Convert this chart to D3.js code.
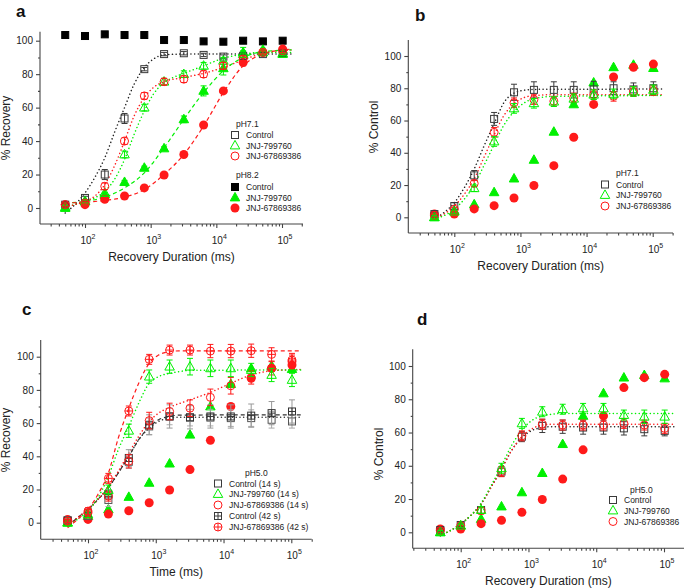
<!DOCTYPE html>
<html><head><meta charset="utf-8">
<script src="https://cdn.jsdelivr.net/npm/d3@7"></script>
<style>body{margin:0;background:#fff}svg{display:block;font-family:"Liberation Sans",Arial,sans-serif}</style>
</head><body><svg id="chart" width="685" height="588"></svg>
<script>
// ---------- data ----------
const durations = [50,100,200,400,800,1600,3200,6400,12800,25600,51200,102400];
const yTicks = [0,20,40,60,80,100];
const xTicks = [100,1000,10000,100000];

// pH8.2 (shared by all panels)
const ph82Control = [103.4,102.8,103.8,103.4,103.4,100.4,100.4,99.6,99.4,100,99.6,100];
const ph82Jnj799  = [0,4,8,15.5,24,35.6,53,70,83.5,93,94.5,92.5];
const ph82Jnj678  = [2,2,5.2,7.2,12,19.7,32,49.6,70,87,93,95];
const ph82Err799  = [1,1,1,1,1,1,2,3,4,3,1,1];
const ph82Err678  = [1,1,1,1,1,1,1,1,1,2,1,1];

// panel a (pH7.1, % Recovery)
const aControl = [2,6,20,53.5,83,92,92.5,91.5,90.5,91,92,92.5];
const aJnj799  = [0.5,4,9,32,60,75.5,80,85,88,92,93,92];
const aJnj678  = [2,3,13,40,67,75.5,77,80,85,89,93,94];
const aErrCtrl = [1,1,3,3,1,1,1,1,1,1,1,1];
const aErr799  = [1,1,2,2,2,2,2,2,2,2,1,1];
const aErr678  = [1,1,2,2,2,2,2,2,2,2,1,1];
const aFitControl = [[50,-3],[70,2],[100,9],[140,18],[200,30],[280,45],[400,60],[560,74],[800,84],[1100,89],[1600,91.5],[3200,92],[140000,92]];
const aFit799     = [[50,1],[70,2],[100,4],[140,6],[200,10],[280,17],[400,29],[560,44],[800,58],[1100,68],[1600,75],[2200,78],[3200,80.5],[6400,85],[12800,89.5],[25600,92],[51200,93],[140000,93]];
const aFit678     = [[50,1],[70,2],[100,4],[140,7],[200,14],[280,25],[400,40],[560,55],[800,66],[1100,72],[1600,75.5],[3200,78],[6400,80.5],[12800,84],[25600,88.5],[51200,92.5],[140000,94.5]];
const aFit82_799  = [[50,3],[100,4],[200,6.5],[400,12],[800,21],[1600,36],[3200,53],[6400,69],[12800,82],[25600,90],[51200,93.5],[140000,94.5]];
const aFit82_678  = [[50,3],[100,3.5],[200,4.5],[400,6.5],[800,11],[1600,20],[3200,32],[6400,49],[12800,69],[25600,85],[51200,92],[140000,95]];

// panel b (pH7.1, % Control)
const bControl = [2,7,26,61,77.5,79,79,79,79.3,80,79.3,80];
const bJnj799  = [0,3.5,18,47,67.5,70.7,71.7,73.5,76,76.5,78,79];
const bJnj678  = [1,5,21,52.7,71,73,72,74,76,75,78,78.5];
const bErrCtrl = [1,2,3,4,5,5,5,5,5,4,4,4];
const bErr799  = [1,1,2,3,3,3,3,3,3,3,3,3];
const bErr678  = [1,1,2,3,3,3,3,3,3,3,3,3];
const bFitControl = [[50,-1],[70,3],[100,9],[140,18],[200,30],[280,44],[400,58],[560,71],[800,77],[1100,78.7],[1600,79.3],[140000,79.5]];
const bFit678     = [[50,-1],[70,2],[100,7],[140,14],[200,24],[280,37],[400,51],[560,63],[800,70.5],[1100,74],[1600,75.5],[3200,76],[140000,76]];
const bFit799     = [[50,-1],[70,1],[100,5],[140,11],[200,20],[280,32],[400,45],[560,57],[800,65.5],[1100,70.5],[1600,73.5],[3200,75],[140000,75.5]];

// panel c (pH5.0, % Recovery)
const cControl14 = [1.6,4,13.7,36.7,58,64,63.3,63.3,63,63,62,61];
const cJnj799_14 = [0,5,19.7,55.4,88,94,94,93,93,92,89,86];
const cJnj678_14 = [1,6,16,37,61.5,67,69,75.5,82.5,87.5,93,97];
const cControl42 = [1,6,17,39,59,64,63.5,64,64,64.5,66,67];
const cJnj678_42 = [1,7,26.7,67.3,98.4,104,104,103.4,103.4,103.6,101.4,98];
const cErrCtrl14 = [1,2,4,4,5,5,5,5,5,5,5,4];
const cErr799_14 = [1,2,3,4,4,4,5,5,5,4,4,4];
const cErr678_14 = [1,2,3,4,5,5,5,5,5,4,4,4];
const cErrCtrl42 = [1,2,3,5,6,7,7,7,7,7,7,7];
const cErr678_42 = [1,2,3,3,3,3,3,4,4,4,4,4];
const cFitCtrl14 = [[50,-2],[70,3],[100,8],[140,14],[200,21],[280,30],[400,40],[560,50],[800,57],[1100,61],[1600,63],[2200,63.5],[140000,63.5]];
const cFitCtrl42 = [[50,-2],[70,3],[100,8],[140,14],[200,21],[280,30],[400,40],[560,50],[800,57.5],[1100,62],[1600,64],[2200,64.8],[140000,65]];
const cFit799_14 = [[50,-2],[70,2],[100,7],[140,15],[200,28],[280,44],[400,58],[560,72],[800,84],[1100,88],[1600,90],[2200,91],[3200,91.8],[140000,92]];
const cFit678_14 = [[50,-2],[70,3],[100,8],[140,14],[200,22],[280,31],[400,42],[560,52],[800,61],[1100,66],[1600,69.5],[3200,74],[6400,78.5],[12800,84],[25600,89],[51200,91.5],[140000,92.3]];
const cFit678_42 = [[50,-3],[70,2],[100,8],[140,17],[200,30],[280,51],[400,69],[560,84],[800,96],[1100,101],[1600,103],[2200,103.5],[140000,103.5]];

// panel d (pH5.0, % Control)
const dControl = [1.4,4.4,13.4,36.5,57.5,64,63.5,63,63,62.5,62,61];
const dJnj799  = [0,4,13.4,38.5,65.5,72.5,74,74.5,74.5,70.5,69.5,69.5];
const dJnj678  = [1,4,13,36.5,58,65,64.5,64.5,64.5,65.5,64.5,62.5];
const dErrCtrl = [1,1,2,3,3,4,4,4,4,4,4,3];
const dErr799  = [1,1,2,3,3,3,3,3,3,3,4,4];
const dErr678  = [1,1,2,3,3,3,3,3,3,3,3,3];
const dFitControl = [[50,-2],[70,1],[100,5],[140,10],[200,17],[280,27],[400,38],[560,49],[800,57],[1100,61],[1600,63],[2200,63.5],[140000,63.5]];
const dFit678     = [[50,-2],[70,1],[100,5],[140,10],[200,17],[280,27],[400,38],[560,49],[800,57.5],[1100,62],[1600,64.5],[2200,65],[140000,65]];
const dFit799     = [[50,-2],[70,1],[100,5],[140,10],[200,17.5],[280,28],[400,40],[560,52],[800,61.5],[1100,67],[1600,70],[2200,71],[3200,71.5],[140000,71.5]];

// ---------- drawing ----------
const GREEN = "#00f000", RED = "#ff1a1a", DARK = "#3a3a3a";
const svg = d3.select("#chart");

function marker(g, shape, cx, cy, color, filled, cross) {
  const sw = 1;
  if (shape === "square") {
    const s = 7;
    g.append("rect").attr("x", cx - s/2).attr("y", cy - s/2).attr("width", s).attr("height", s)
      .attr("fill", filled ? color : "none").attr("stroke", color).attr("stroke-width", sw);
    if (cross) {
      g.append("line").attr("x1", cx - s/2).attr("x2", cx + s/2).attr("y1", cy).attr("y2", cy).attr("stroke", color).attr("stroke-width", sw);
      g.append("line").attr("x1", cx).attr("x2", cx).attr("y1", cy - s/2).attr("y2", cy + s/2).attr("stroke", color).attr("stroke-width", sw);
    }
  } else if (shape === "circle") {
    const r = 4;
    g.append("circle").attr("cx", cx).attr("cy", cy).attr("r", filled ? r + 0.5 : r)
      .attr("fill", filled ? color : "none").attr("stroke", color).attr("stroke-width", filled ? 0 : sw);
    if (cross) {
      g.append("line").attr("x1", cx - r).attr("x2", cx + r).attr("y1", cy).attr("y2", cy).attr("stroke", color).attr("stroke-width", sw);
      g.append("line").attr("x1", cx).attr("x2", cx).attr("y1", cy - r).attr("y2", cy + r).attr("stroke", color).attr("stroke-width", sw);
    }
  } else if (shape === "triangle") {
    const w = 9.5, h = 8.5;
    const pts = [[cx, cy - h*0.6], [cx + w/2, cy + h*0.4], [cx - w/2, cy + h*0.4]];
    g.append("path").attr("d", "M" + pts.map(p => p.join(",")).join("L") + "Z")
      .attr("fill", filled ? color : "none").attr("stroke", color).attr("stroke-width", sw);
  }
}

function panel(cfg) {
  const g = svg.append("g");
  const dec = (cfg.x5 - cfg.x2) / 3;
  const xmin = Math.pow(10, 2 - (cfg.x2 - cfg.left) / dec);
  const xmax = Math.pow(10, 5 + (cfg.right - cfg.x5) / dec);
  const x = d3.scaleLog().domain([xmin, xmax]).range([cfg.left, cfg.right]);
  const unit = (cfg.y0 - cfg.y100) / 100;
  const ymin = -(cfg.bottom - cfg.y0) / unit;
  const ymax = (cfg.y0 - cfg.top) / unit;
  const y = d3.scaleLinear().domain([ymin, ymax]).range([cfg.bottom, cfg.top]);

  // panel letter
  g.append("text").attr("x", cfg.letterX).attr("y", cfg.letterY).attr("font-size", 17)
    .attr("font-weight", "bold").attr("fill", "#111").text(cfg.letter);

  // curves
  const line = d3.line().x(d => x(d[0])).y(d => y(d[1])).curve(d3.curveMonotoneX);
  cfg.curves.forEach(c => {
    g.append("path").attr("d", line(c.pts)).attr("fill", "none").attr("stroke", c.color)
      .attr("stroke-width", c.dash === "dot" ? 1.5 : 1.2)
      .attr("stroke-linecap", c.dash === "dot" ? "round" : "butt")
      .attr("stroke-dasharray", c.dash === "dot" ? "0.1,3.6" : "4,3");
  });

  // series
  cfg.series.forEach(s => {
    const sg = g.append("g");
    durations.forEach((t, i) => {
      const cx = x(t), cy = y(s.values[i]);
      if (s.err) {
        const e = s.err[i];
        const ec = s.errColor || s.color;
        sg.append("line").attr("x1", cx).attr("x2", cx).attr("y1", y(s.values[i] - e)).attr("y2", y(s.values[i] + e)).attr("stroke", ec).attr("stroke-width", 1);
        [s.values[i] - e, s.values[i] + e].forEach(v =>
          sg.append("line").attr("x1", cx - 3).attr("x2", cx + 3).attr("y1", y(v)).attr("y2", y(v)).attr("stroke", ec).attr("stroke-width", 1));
      }
      marker(sg, s.shape, cx, cy, s.color, s.filled, s.cross);
    });
  });

  // axes
  const axisColor = "#444";
  const xa = g.append("g").attr("transform", `translate(0,${cfg.bottom})`)
    .call(d3.axisBottom(x).tickValues(xTicks).tickSize(4).tickFormat(""));
  const minor = [];
  [10,100,1000,10000,100000].forEach(b => { for (let k = 2; k <= 9; k++) { const v = b*k; if (v >= xmin && v <= xmax) minor.push(v); } });
  const xm = g.append("g").attr("transform", `translate(0,${cfg.bottom})`)
    .call(d3.axisBottom(x).tickValues(minor).tickSize(2.5).tickFormat(""));
  xm.select(".domain").remove();
  const ya = g.append("g").attr("transform", `translate(${cfg.left},0)`)
    .call(d3.axisLeft(y).tickValues(yTicks).tickSize(4).tickPadding(3));
  const ym = g.append("g").attr("transform", `translate(${cfg.left},0)`)
    .call(d3.axisLeft(y).tickValues([10,30,50,70,90]).tickSize(2).tickFormat(""));
  ym.select(".domain").remove();
  [xa, xm, ya, ym].forEach(a => {
    a.selectAll("path,line").attr("stroke", axisColor).attr("stroke-width", 1.1);
  });
  xa.select(".domain").attr("d", `M${cfg.left},0H${cfg.right}`);
  ya.select(".domain").attr("d", `M0,${cfg.top}V${cfg.bottom}`);
  ya.selectAll("text").attr("font-size", 10).attr("fill", "#222").attr("font-family", "Liberation Sans, Arial, sans-serif");

  // x tick labels with superscript exponents
  xTicks.forEach(v => {
    const t = g.append("text").attr("x", x(v) + 3).attr("y", cfg.bottom + 20).attr("text-anchor", "middle")
      .attr("font-size", 10).attr("fill", "#222");
    t.append("tspan").text("10");
    t.append("tspan").attr("dy", -5).attr("font-size", 7).text(String(Math.round(Math.log10(v))));
  });

  // axis titles
  g.append("text").attr("x", (cfg.left + cfg.right) / 2).attr("y", cfg.bottom + 37)
    .attr("text-anchor", "middle").attr("font-size", 12).attr("fill", "#222").text(cfg.xTitle);
  g.append("text").attr("transform", `translate(${cfg.yTitleX},${cfg.yTitleY}) rotate(-90)`)
    .attr("text-anchor", "middle").attr("font-size", 12).attr("fill", "#222").text(cfg.yTitle);

  // legend
  cfg.legend.forEach(L => {
    if (L.header) {
      g.append("text").attr("x", L.x).attr("y", L.y + 3).attr("font-size", 8.5).attr("fill", "#222").text(L.header);
    } else {
      marker(g, L.shape, L.x, L.y, L.color, L.filled, L.cross);
      g.append("text").attr("x", L.x + 11).attr("y", L.y + 3).attr("font-size", 8.5).attr("fill", "#222").text(L.label);
    }
  });
}

const sq = (values, err, extra) => Object.assign({values, err, shape: "square", color: DARK, filled: false}, extra || {});
const tri = (values, err, extra) => Object.assign({values, err, shape: "triangle", color: GREEN, filled: false}, extra || {});
const cir = (values, err, extra) => Object.assign({values, err, shape: "circle", color: RED, filled: false}, extra || {});

function legendItems(x0, xText, ys, items) {
  return items.map((it, i) => it.header ? {header: it.header, x: xText, y: ys[i]} : Object.assign({x: x0, y: ys[i]}, it));
}

// Panel a
panel({
  letter: "a", letterX: 16, letterY: 17,
  left: 40, right: 303, x2: 85, x5: 282, top: 31.7, bottom: 224, y0: 208, y100: 40.7,
  xTitle: "Recovery Duration (ms)", yTitle: "% Recovery", yTitleX: 10, yTitleY: 128,
  curves: [
    {pts: aFitControl, color: "#222", dash: "dot"},
    {pts: aFit799, color: GREEN, dash: "dot"},
    {pts: aFit678, color: RED, dash: "dot"},
    {pts: aFit82_799, color: GREEN, dash: "dash"},
    {pts: aFit82_678, color: RED, dash: "dash"}
  ],
  series: [
    sq(ph82Control, null, {color: "#000", filled: true}),
    tri(ph82Jnj799, ph82Err799, {filled: true}),
    cir(ph82Jnj678, ph82Err678, {filled: true}),
    sq(aControl, aErrCtrl),
    tri(aJnj799, aErr799),
    cir(aJnj678, aErr678)
  ],
  legend: legendItems(235, 236, [124, 135, 145.5, 156, 175, 187, 197.5, 208], [
    {header: "pH7.1"},
    {shape: "square", color: DARK, filled: false, label: "Control"},
    {shape: "triangle", color: GREEN, filled: false, label: "JNJ-799760"},
    {shape: "circle", color: RED, filled: false, label: "JNJ-67869386"},
    {header: "pH8.2"},
    {shape: "square", color: "#000", filled: true, label: "Control"},
    {shape: "triangle", color: GREEN, filled: true, label: "JNJ-799760"},
    {shape: "circle", color: RED, filled: true, label: "JNJ-67869386"}
  ])
});

// Panel b
panel({
  letter: "b", letterX: 415, letterY: 21,
  left: 408.3, right: 673, x2: 454.3, x5: 652.7, top: 40, bottom: 233, y0: 217.3, y100: 56,
  xTitle: "Recovery Duration (ms)", yTitle: "% Control", yTitleX: 378, yTitleY: 127,
  curves: [
    {pts: bFitControl, color: "#222", dash: "dot"},
    {pts: bFit678, color: RED, dash: "dot"},
    {pts: bFit799, color: GREEN, dash: "dot"}
  ],
  series: [
    tri(ph82Jnj799, null, {filled: true}),
    cir(ph82Jnj678, null, {filled: true}),
    sq(bControl, bErrCtrl),
    cir(bJnj678, bErr678),
    tri(bJnj799, bErr799)
  ],
  legend: legendItems(605, 616, [173, 184.5, 195, 206], [
    {header: "pH7.1"},
    {shape: "square", color: DARK, filled: false, label: "Control"},
    {shape: "triangle", color: GREEN, filled: false, label: "JNJ-799760"},
    {shape: "circle", color: RED, filled: false, label: "JNJ-67869386"}
  ])
});

// Panel c
panel({
  letter: "c", letterX: 22, letterY: 315,
  left: 40.7, right: 311.7, x2: 88, x5: 291.3, top: 340, bottom: 539.3, y0: 522.7, y100: 356.7,
  xTitle: "Time (ms)", yTitle: "% Recovery", yTitleX: 10, yTitleY: 440,
  curves: [
    {pts: cFitCtrl42, color: "#333", dash: "dash"},
    {pts: cFitCtrl14, color: "#333", dash: "dot"},
    {pts: cFit678_14, color: RED, dash: "dot"},
    {pts: cFit799_14, color: GREEN, dash: "dot"},
    {pts: cFit678_42, color: RED, dash: "dash"}
  ],
  series: [
    tri(ph82Jnj799, null, {filled: true}),
    cir(ph82Jnj678, null, {filled: true}),
    sq(cControl14, cErrCtrl14, {color: "#555", errColor: "#aaa"}),
    sq(cControl42, cErrCtrl42, {color: "#333", errColor: "#999", cross: true}),
    cir(cJnj678_14, cErr678_14),
    tri(cJnj799_14, cErr799_14),
    cir(cJnj678_42, cErr678_42, {cross: true})
  ],
  legend: legendItems(218, 245, [473, 483.5, 494, 505, 516, 527], [
    {header: "pH5.0"},
    {shape: "square", color: DARK, filled: false, label: "Control (14 s)"},
    {shape: "triangle", color: GREEN, filled: false, label: "JNJ-799760 (14 s)"},
    {shape: "circle", color: RED, filled: false, label: "JNJ-67869386 (14 s)"},
    {shape: "square", color: DARK, filled: false, cross: true, label: "Control (42 s)"},
    {shape: "circle", color: RED, filled: false, cross: true, label: "JNJ-67869386 (42 s)"}
  ])
});

// Panel d
panel({
  letter: "d", letterX: 417, letterY: 325,
  left: 412.7, right: 684, x2: 460.7, x5: 664, top: 349.3, bottom: 548.3, y0: 532.3, y100: 366,
  xTitle: "Recovery Duration (ms)", yTitle: "% Control", yTitleX: 383, yTitleY: 454,
  curves: [
    {pts: dFitControl, color: "#222", dash: "dot"},
    {pts: dFit678, color: RED, dash: "dot"},
    {pts: dFit799, color: GREEN, dash: "dot"}
  ],
  series: [
    tri(ph82Jnj799, null, {filled: true}),
    cir(ph82Jnj678, null, {filled: true}),
    sq(dControl, dErrCtrl),
    cir(dJnj678, dErr678),
    tri(dJnj799, dErr799)
  ],
  legend: legendItems(613, 630, [489.5, 500, 510.5, 521.5], [
    {header: "pH5.0"},
    {shape: "square", color: DARK, filled: false, label: "Control"},
    {shape: "triangle", color: GREEN, filled: false, label: "JNJ-799760"},
    {shape: "circle", color: RED, filled: false, label: "JNJ-67869386"}
  ])
});
</script></body></html>
